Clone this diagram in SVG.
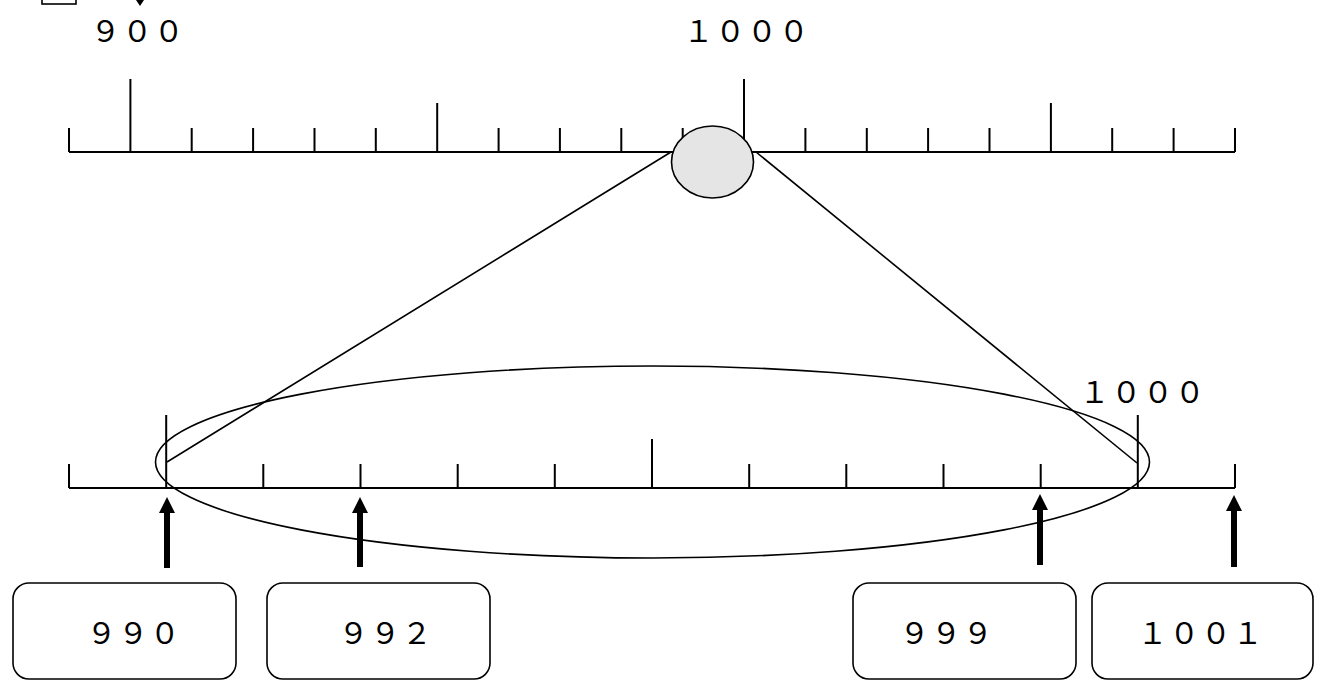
<svg xmlns="http://www.w3.org/2000/svg" width="1319" height="687" viewBox="0 0 1319 687">
<style>
.rule{stroke:#000;stroke-width:2;fill:none}
.thin{stroke:#000;stroke-width:1.6;fill:none}
.box{stroke:#000;stroke-width:1.6;fill:#fff}
.lbl{font-family:"Liberation Serif","Noto Sans CJK JP",serif;font-size:30px;letter-spacing:1.7px;fill:#000;text-anchor:middle}
.arr{fill:#000;stroke:none}
</style>
<rect width="1319" height="687" fill="#fff"/>
<g id="topmark">
<rect x="42" y="-10" width="34" height="14" class="thin"/>
<polygon points="136,0 144,0 140,6" fill="#000"/>
</g>
<g id="top-ruler">
<path class="rule" d="M69,152H1235 M69,152V128 M130.4,152V79 M191.7,152V128 M253.1,152V128 M314.5,152V128 M375.8,152V128 M437.2,152V103 M498.6,152V128 M559.9,152V128 M621.3,152V128 M682.7,152V128 M744,152V79 M805.4,152V128 M866.8,152V128 M928.1,152V128 M989.5,152V128 M1050.9,152V103 M1112.2,152V128 M1173.6,152V128 M1235,152V128"/>
</g>
<g id="label-900"><text class="lbl" x="138" y="42">９００</text></g>
<g id="label-1000-top"><text class="lbl" x="747" y="42">１０００</text></g>
<g id="zoom-circle"><ellipse cx="712.5" cy="162" rx="41" ry="36" fill="#e5e5e5" stroke="#000" stroke-width="1.6"/></g>
<g id="bottom-ruler">
<path class="rule" d="M69,488H1235 M69,488V464 M166.2,488V415 M263.3,488V464 M360.5,488V464 M457.7,488V464 M554.8,488V464 M652,488V439 M749.2,488V464 M846.3,488V464 M943.5,488V464 M1040.7,488V464 M1137.8,488V415 M1235,488V464"/>
</g>
<g id="label-1000-bottom"><text class="lbl" x="1143" y="403">１０００</text></g>
<g id="connectors">
<line class="thin" x1="671" y1="152" x2="167" y2="462"/>
<line class="thin" x1="756" y1="152" x2="1137" y2="463"/>
<ellipse class="thin" cx="652.5" cy="462" rx="497" ry="96"/>
<path class="arr" d="M167,497 L175,513 L170,513 L170,568 L164,568 L164,513 L159,513 Z"/>
<path class="arr" d="M360,497 L368,513 L363,513 L363,567 L357,567 L357,513 L352,513 Z"/>
<path class="arr" d="M1040,494 L1048,510 L1043,510 L1043,565 L1037,565 L1037,510 L1032,510 Z"/>
<path class="arr" d="M1234,495 L1242,511 L1237,511 L1237,567 L1231,567 L1231,511 L1226,511 Z"/>
</g>
<g id="box-990"><rect class="box" x="13" y="583" width="223" height="96" rx="16"/><text class="lbl" x="134" y="644">９９０</text></g>
<g id="box-992"><rect class="box" x="267" y="583" width="223" height="96" rx="16"/><text class="lbl" x="386" y="644">９９２</text></g>
<g id="box-999"><rect class="box" x="853" y="583" width="223" height="96" rx="16"/><text class="lbl" x="947" y="644">９９９</text></g>
<g id="box-1001"><rect class="box" x="1092" y="583" width="221" height="96" rx="16"/><text class="lbl" x="1201" y="644">１００１</text></g>
</svg>
